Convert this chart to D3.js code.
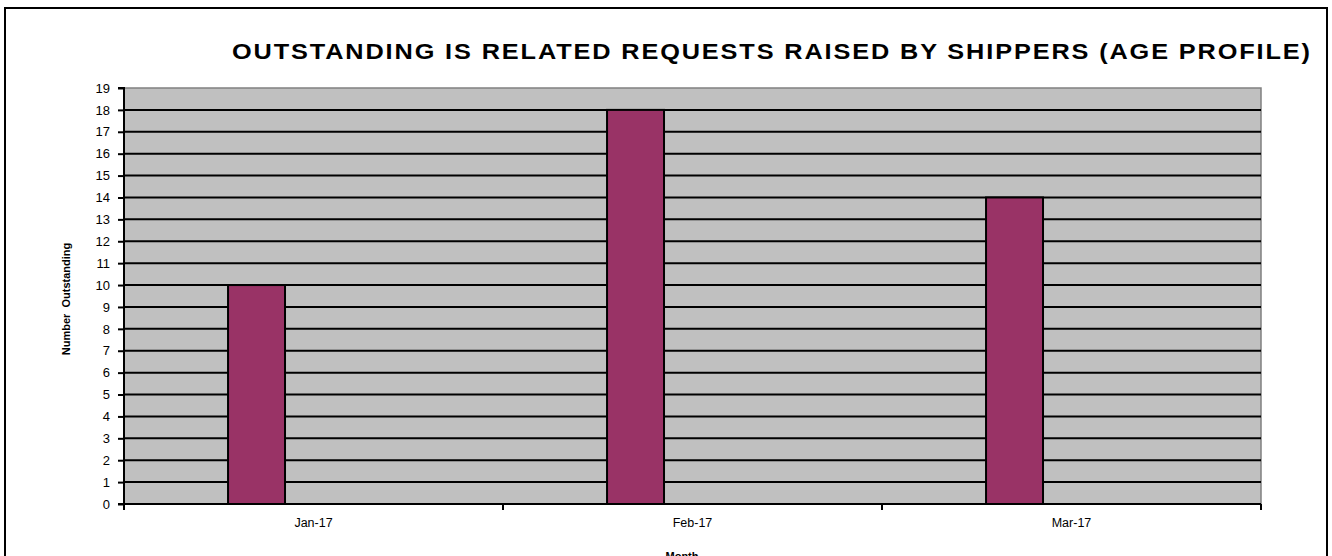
<!DOCTYPE html>
<html>
<head>
<meta charset="utf-8">
<script src="https://cdn.jsdelivr.net/npm/d3@7"></script>
<style>
  html, body { margin: 0; padding: 0; background: #fff; }
  svg { display: block; font-family: "Liberation Sans", Arial, sans-serif; }
</style>
</head>
<body>
<svg id="chart" width="1332" height="556"></svg>
<script>
const months = ["Jan-17", "Feb-17", "Mar-17"];
const outstanding = [10, 18, 14];
const yTicks = d3.range(0, 20);
const titleText = "OUTSTANDING IS RELATED REQUESTS RAISED BY SHIPPERS (AGE PROFILE)";
const yTitle = "Number  Outstanding";
const xTitle = "Month";

const svg = d3.select("#chart");
const L = 124, R = 1261, T = 88, B = 504;

// outer border
svg.append("rect").attr("x", 5).attr("y", 8).attr("width", 1322).attr("height", 560)
  .attr("fill", "#fff").attr("stroke", "#000").attr("stroke-width", 2);

const y = d3.scaleLinear().domain([0, 19]).range([B, T]);
const x = d3.scaleBand().domain(months).range([L, R]).paddingInner(0.549).paddingOuter(0.2745);
const xEdge = d3.scaleLinear().domain([0, months.length]).range([L, R]);

// plot background
svg.append("rect").attr("x", L).attr("y", T).attr("width", R - L).attr("height", B - T)
  .attr("fill", "#c0c0c0").attr("stroke", "#808080").attr("stroke-width", 1.5);

// gridlines
svg.append("g").selectAll("line").data(yTicks.filter(d => d > 0 && d < 19)).join("line")
  .attr("x1", L).attr("x2", R).attr("y1", d => y(d)).attr("y2", d => y(d))
  .attr("stroke", "#000").attr("stroke-width", 2);

// bars
svg.append("g").selectAll("rect").data(months).join("rect")
  .attr("x", d => x(d))
  .attr("y", (d, i) => y(outstanding[i]))
  .attr("width", x.bandwidth() / 3)
  .attr("height", (d, i) => B - y(outstanding[i]))
  .attr("fill", "#993366").attr("stroke", "#000").attr("stroke-width", 2);

// y axis
const yAxis = d3.axisLeft(y).tickValues(yTicks).tickSize(6).tickPadding(8).tickFormat(d3.format("d"));
const gy = svg.append("g").attr("transform", `translate(${L},0)`).call(yAxis);
gy.select(".domain").attr("stroke", "#000").attr("stroke-width", 2).attr("d", `M-6,${T}H0V${B}`);
gy.selectAll(".tick line").attr("stroke", "#000").attr("stroke-width", 2);
gy.selectAll(".tick text").attr("font-size", 13).attr("fill", "#000")
  .attr("font-family", "Liberation Sans, Arial, sans-serif");

// x axis
const gx = svg.append("g").attr("transform", `translate(0,${B})`);
gx.append("line").attr("x1", L - 6).attr("x2", R).attr("y1", 0).attr("y2", 0)
  .attr("stroke", "#000").attr("stroke-width", 2);
gx.selectAll("line.tk").data(d3.range(months.length + 1)).join("line").attr("class", "tk")
  .attr("x1", d => xEdge(d)).attr("x2", d => xEdge(d)).attr("y1", 0).attr("y2", 6)
  .attr("stroke", "#000").attr("stroke-width", 2);
gx.selectAll("text").data(months).join("text")
  .attr("x", d => x(d) + x.bandwidth() / 2).attr("y", 23)
  .attr("text-anchor", "middle").attr("font-size", 12.5).attr("fill", "#000")
  .text(d => d);

// titles
const sx = 1.15;
svg.append("text").attr("transform", `translate(232,59) scale(${sx},1)`)
  .attr("font-size", 22).attr("font-weight", "bold").attr("fill", "#000")
  .attr("textLength", 1078 / sx).attr("lengthAdjust", "spacing").text(titleText);
svg.append("text").attr("transform", "translate(70,299) rotate(-90)").attr("text-anchor", "middle")
  .attr("font-size", 11).attr("font-weight", "bold").attr("fill", "#000").style("white-space", "pre").text(yTitle);
svg.append("text").attr("x", 682).attr("y", 560).attr("text-anchor", "middle")
  .attr("font-size", 11).attr("font-weight", "bold").attr("fill", "#000").text(xTitle);
</script>
</body>
</html>
